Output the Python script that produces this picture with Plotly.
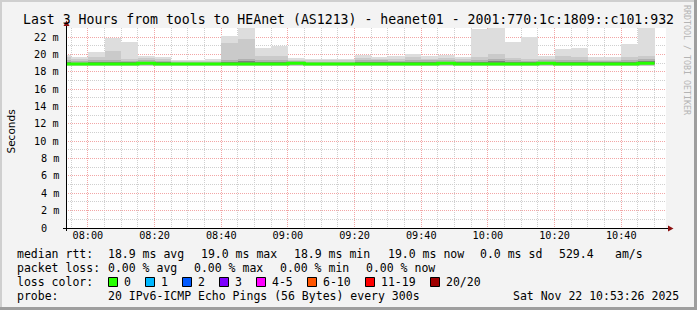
import pandas as pd
import plotly.graph_objects as go

# ---------------- data ----------------
DAY = "2025-11-22"
bar_start = ["07:50", "07:55", "08:00", "08:05", "08:10", "08:15", "08:20", "08:25", "08:30", "08:35",
             "08:40", "08:45", "08:50", "08:55", "09:00", "09:05", "09:10", "09:15", "09:20", "09:25",
             "09:30", "09:35", "09:40", "09:45", "09:50", "09:55", "10:00", "10:05", "10:10", "10:15",
             "10:20", "10:25", "10:30", "10:35", "10:40", "10:45"]

# smoke: outer (max/min) and inner percentile bands, in ms
rtt_max = [19.93, 19.66, 20.24, 21.89, 21.43, 19.82, 19.70, 19.35, 19.35, 19.43,
           22.12, 23.30, 20.74, 20.97, 19.62, 19.47, 19.50, 19.50, 19.93, 19.70,
           19.82, 20.05, 19.85, 19.93, 19.74, 22.90, 23.30, 21.47, 21.97, 19.82,
           20.62, 20.78, 19.70, 19.70, 21.20, 23.30]
rtt_hi2 = [19.66, 19.45, 19.66, 20.39, 19.43, 19.60, 19.50, 19.20, 19.20, 19.25,
           21.35, 21.80, 19.80, 19.80, 19.40, 19.30, 19.30, 19.30, 19.60, 19.50,
           19.50, 19.70, 19.50, 19.60, 19.50, 19.70, 20.00, 19.60, 19.50, 19.50,
           19.80, 19.70, 19.40, 19.40, 19.70, 19.80]
rtt_hi3 = [19.30, 19.20, 19.30, 19.40, 19.20, 19.30, 19.25, 19.10, 19.10, 19.10,
           19.40, 19.50, 19.30, 19.35, 19.20, 19.15, 19.15, 19.15, 19.30, 19.30,
           19.25, 19.35, 19.30, 19.35, 19.25, 19.40, 19.50, 19.30, 19.25, 19.30,
           19.40, 19.40, 19.20, 19.20, 19.35, 19.45]
rtt_hi4 = [19.10, 19.05, 19.10, 19.15, 19.15, 19.15, 19.10, 19.00, 19.00, 19.00,
           19.15, 19.20, 19.10, 19.15, 19.10, 19.05, 19.05, 19.05, 19.10, 19.10,
           19.10, 19.15, 19.10, 19.15, 19.10, 19.15, 19.20, 19.10, 19.10, 19.15,
           19.15, 19.15, 19.10, 19.10, 19.15, 19.20]
rtt_lo4 = [18.82, 18.82, 18.82, 18.82, 18.82, 18.85, 18.82, 18.82, 18.82, 18.82,
           18.82, 18.82, 18.82, 18.82, 18.85, 18.82, 18.82, 18.82, 18.82, 18.82,
           18.82, 18.82, 18.82, 18.85, 18.82, 18.82, 18.82, 18.82, 18.82, 18.85,
           18.82, 18.82, 18.82, 18.82, 18.82, 18.85]
rtt_lo3 = [18.75, 18.75, 18.75, 18.75, 18.75, 18.78, 18.75, 18.75, 18.75, 18.75,
           18.75, 18.75, 18.75, 18.75, 18.78, 18.75, 18.75, 18.75, 18.75, 18.75,
           18.75, 18.75, 18.75, 18.78, 18.75, 18.75, 18.75, 18.75, 18.75, 18.78,
           18.75, 18.75, 18.75, 18.75, 18.75, 18.78]
rtt_lo2 = [18.70, 18.70, 18.70, 18.70, 18.70, 18.72, 18.70, 18.70, 18.70, 18.70,
           18.70, 18.70, 18.70, 18.70, 18.72, 18.70, 18.70, 18.70, 18.70, 18.70,
           18.70, 18.70, 18.70, 18.72, 18.70, 18.70, 18.70, 18.70, 18.70, 18.72,
           18.70, 18.70, 18.70, 18.70, 18.70, 18.72]
rtt_min = [18.62, 18.62, 18.62, 18.62, 18.62, 18.65, 18.62, 18.62, 18.62, 18.62,
           18.62, 18.62, 18.62, 18.62, 18.65, 18.62, 18.62, 18.62, 18.62, 18.62,
           18.62, 18.62, 18.62, 18.65, 18.62, 18.62, 18.62, 18.62, 18.62, 18.65,
           18.62, 18.62, 18.62, 18.62, 18.62, 18.65]
median_rtt = [18.88, 18.88, 18.88, 18.88, 18.88, 18.99, 18.88, 18.88, 18.88, 18.88,
              18.88, 18.88, 18.88, 18.88, 18.99, 18.88, 18.88, 18.88, 18.88, 18.88,
              18.88, 18.88, 18.88, 18.99, 18.88, 18.88, 18.88, 18.88, 18.88, 18.99,
              18.88, 18.88, 18.88, 18.88, 18.88, 18.99]

y_tick_vals = [0, 2, 4, 6, 8, 10, 12, 14, 16, 18, 20, 22]
y_tick_text = ["0\u00a0\u00a0", "2 m", "4 m", "6 m", "8 m", "10 m", "12 m", "14 m",
               "16 m", "18 m", "20 m", "22 m"]
x_tick_text = ["08:00", "08:20", "08:40", "09:00", "09:20", "09:40", "10:00", "10:20", "10:40"]

loss_labels = ["0", "1", "2", "3", "4-5", "6-10", "11-19", "20/20"]
loss_colors = ["#26ff00", "#00b8ff", "#0059ff", "#7e00ff", "#ff00ff", "#ff5500", "#ff0000", "#a00000"]

title = "Last 3 Hours from tools to HEAnet (AS1213) - heanet01 - 2001:770:1c:1809::c101:932"
stats_rtt = ["18.9 ms avg", "19.0 ms max", "18.9 ms min", "19.0 ms now", "0.0 ms sd", "529.4", "am/s"]
stats_loss = ["0.00 % avg", "0.00 % max", "0.00 % min", "0.00 % now"]
probe_text = "20 IPv6-ICMP Echo Pings (56 Bytes) every 300s"
stamp_text = "Sat Nov 22 10:53:26 2025"

# ---------------- layout geometry (pixels) ----------------
W, H = 697, 310
L, R, T, B = 66, 666, 28, 228
Y_TOP = 23.04
t_start = pd.Timestamp(f"{DAY} 07:53:26")
t_end = pd.Timestamp(f"{DAY} 10:53:26")
STEP = pd.Timedelta(minutes=5)


def px(x):
    return (x - L) / (R - L)


def py(y):
    return (B - y) / (B - T)


MONO = "DejaVu Sans Mono"
starts = pd.to_datetime([f"{DAY} {s}" for s in bar_start])
centers = starts + STEP / 2

fig = go.Figure()

layers = [
    (rtt_min, rtt_max, "#dddddd"),
    (rtt_lo2, rtt_hi2, "#cacaca"),
    (rtt_lo3, rtt_hi3, "#b0b0b0"),
    (rtt_lo4, rtt_hi4, "#7e7e7e"),
]
for lo, hi, col in layers:
    fig.add_trace(go.Bar(
        x=centers, base=lo, y=[h - l for h, l in zip(hi, lo)],
        width=STEP.total_seconds() * 1000,
        marker=dict(color=col, line=dict(width=0)),
        hoverinfo="skip", showlegend=False,
    ))

fig.add_trace(go.Scatter(
    x=list(starts) + [starts[-1] + STEP], y=median_rtt + [median_rtt[-1]],
    mode="lines", line=dict(color="#26ff00", width=3, shape="hv"),
    hoverinfo="skip", showlegend=False,
))

fig.update_layout(
    width=W, height=H,
    margin=dict(l=L, r=W - R, t=T, b=H - B, pad=0),
    paper_bgcolor="#f3f3f3", plot_bgcolor="#ffffff",
    barmode="overlay", bargap=0,
    font=dict(family=MONO, size=10, color="#000000"),
    showlegend=False,
)

fig.update_xaxes(
    type="date", range=[t_start, t_end], fixedrange=True,
    tickmode="array", tickvals=[pd.Timestamp(f"{DAY} {t}") for t in x_tick_text], ticktext=x_tick_text,
    tickfont=dict(family=MONO, size=10.2, color="#000000"),
    ticks="", showline=False, zeroline=False,
    showgrid=True, gridcolor="#f2a6a6", gridwidth=1, griddash="1px,1px",
    minor=dict(dtick=STEP.total_seconds() * 1000, tick0=f"{DAY} 08:00", showgrid=True,
               gridcolor="#cfcfcf", gridwidth=1, griddash="1px,1px"),
)
fig.update_yaxes(
    range=[0, Y_TOP], fixedrange=True,
    tickmode="array", tickvals=y_tick_vals, showticklabels=False,
    ticks="", showline=False, zeroline=False,
    showgrid=True, gridcolor="#f2a6a6", gridwidth=1, griddash="1px,1px",
    minor=dict(dtick=1, tick0=1, showgrid=True, gridcolor="#cfcfcf", gridwidth=1, griddash="1px,1px"),
)

shapes = []
# frame of the canvas (3-d shading)
shapes.append(dict(type="line", xref="paper", yref="paper", x0=px(0), x1=px(W), y0=py(1), y1=py(1),
                   line=dict(color="#cfcfcf", width=2)))
shapes.append(dict(type="line", xref="paper", yref="paper", x0=px(1), x1=px(1), y0=py(0), y1=py(H),
                   line=dict(color="#cfcfcf", width=2)))
shapes.append(dict(type="line", xref="paper", yref="paper", x0=px(W - 1.5), x1=px(W - 1.5), y0=py(0), y1=py(H),
                   line=dict(color="#9e9e9e", width=3)))
shapes.append(dict(type="line", xref="paper", yref="paper", x0=px(0), x1=px(W), y0=py(H - 1.5), y1=py(H - 1.5),
                   line=dict(color="#9e9e9e", width=3)))
# axes with arrows
shapes.append(dict(type="line", xref="paper", yref="paper", x0=px(63), x1=px(669), y0=py(228.5), y1=py(228.5),
                   line=dict(color="#000000", width=1), layer="above"))
shapes.append(dict(type="line", xref="paper", yref="paper", x0=px(66.5), x1=px(66.5), y0=py(231), y1=py(25),
                   line=dict(color="#000000", width=1), layer="above"))
shapes.append(dict(type="path", xref="paper", yref="paper",
                   path=f"M{px(668)},{py(225.5)} L{px(673.5)},{py(228.5)} L{px(668)},{py(231.5)} Z",
                   fillcolor="#8b1010", line=dict(width=0), layer="above"))
shapes.append(dict(type="path", xref="paper", yref="paper",
                   path=f"M{px(63.5)},{py(26)} L{px(66.5)},{py(20.5)} L{px(69.5)},{py(26)} Z",
                   fillcolor="#8b1010", line=dict(width=0), layer="above"))

annotations = []
# y-axis tick labels, placed on the y scale
for v, txt in zip(y_tick_vals, y_tick_text):
    annotations.append(dict(text=txt, x=px(60), y=v, xref="paper", yref="y", showarrow=False,
                            xanchor="right", yanchor="middle", borderpad=0,
                            font=dict(family=MONO, size=10.2, color="#000000")))

# loss-colour legend boxes
box_left = [108.5, 145.5, 182.5, 219.5, 256.5, 307.5, 365.5, 430.5]
legend_notes = []
for xl, lab, col in zip(box_left, loss_labels, loss_colors):
    shapes.append(dict(type="rect", xref="paper", yref="paper",
                       x0=px(xl), x1=px(xl + 9), y0=py(277.5), y1=py(286.5),
                       fillcolor=col, line=dict(color="#000000", width=1)))
    legend_notes.append(dict(text=lab, x=px(xl + 14.5), y=py(282), xanchor="left", yanchor="middle"))

LEG = dict(family=MONO, size=11.5, color="#000000")


def note(text, x, y, anchor="left"):
    legend_notes.append(dict(text=text, x=px(x), y=py(y), xanchor=anchor, yanchor="middle"))


note("median rtt:", 16, 254)
for s, x in zip(stats_rtt, [107.3, 200, 293.3, 386.7, 479.3, 558.3, 614]):
    note(s, x, 254)
note("packet loss:", 16, 268)
for s, x in zip(stats_loss, [107.3, 193.3, 279.3, 365]):
    note(s, x, 268)
note("loss color:", 16, 282)
note("probe:", 16, 296)
note(probe_text, 107.3, 296)
note(stamp_text, 680, 296, anchor="right")

for a in legend_notes:
    a.update(xref="paper", yref="paper", showarrow=False, borderpad=0, font=LEG)
annotations += legend_notes

annotations.append(dict(text=title, x=px(348), y=py(19), xref="paper", yref="paper", showarrow=False,
                        xanchor="center", yanchor="middle", font=dict(family=MONO, size=13.2, color="#000000")))
annotations.append(dict(text="Seconds", x=px(10), y=py(131.5), xref="paper", yref="paper", showarrow=False,
                        textangle=-90, xanchor="center", yanchor="middle",
                        font=dict(family="DejaVu Sans", size=10.5, color="#000000")))
annotations.append(dict(text="RRDTOOL / TOBI OETIKER", x=px(687), y=py(60), xref="paper", yref="paper",
                        showarrow=False, textangle=90, xanchor="center", yanchor="middle",
                        font=dict(family=MONO, size=8.3, color="#b4b4b4")))

fig.update_layout(shapes=shapes, annotations=annotations)
fig.write_html("out.html")
